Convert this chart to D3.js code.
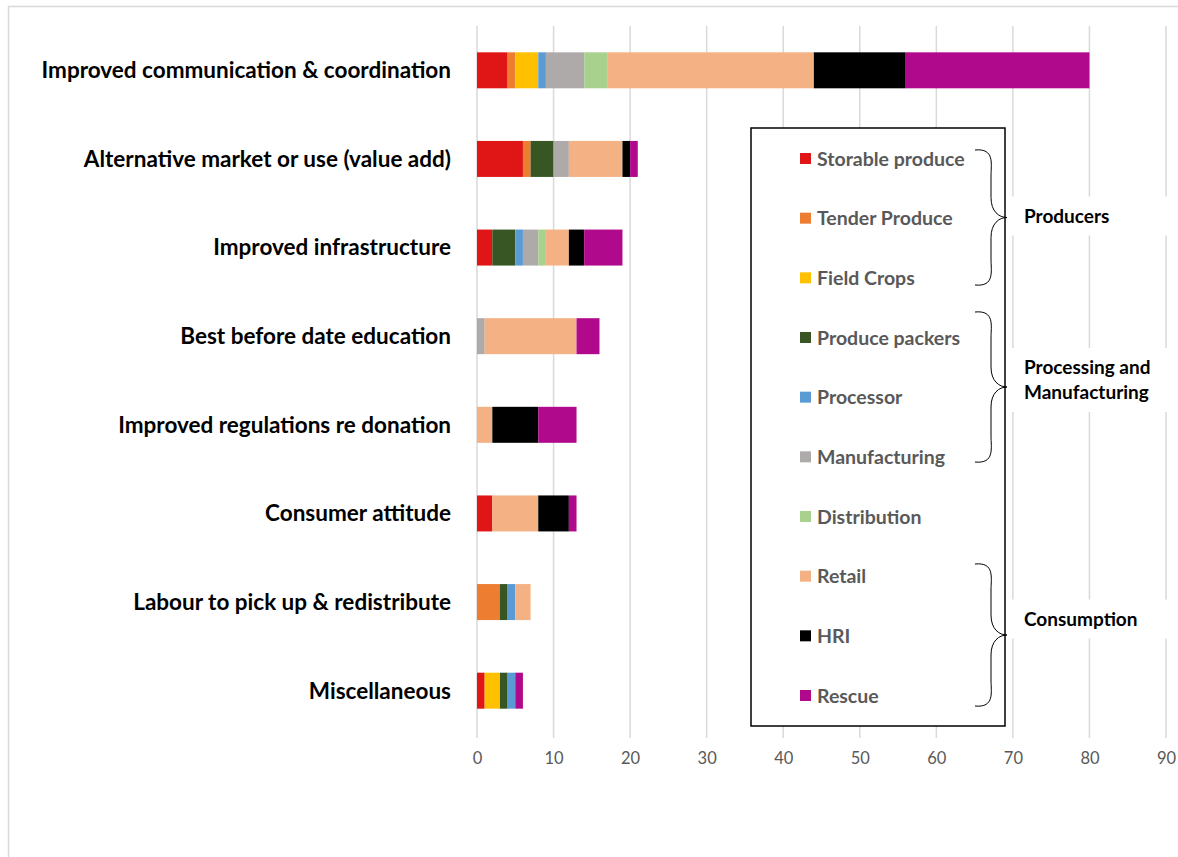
<!DOCTYPE html>
<html>
<head>
<meta charset="utf-8">
<script src="https://cdn.jsdelivr.net/npm/d3@7"></script>
<style>
  html, body { margin: 0; padding: 0; background: #fff; }
  svg { display: block; }
</style>
</head>
<body>
<svg id="chart" width="1178" height="857"></svg>
<script>
// Solutions to reduce food waste, counted by supply-chain sector
const categories = [
  "Improved communication & coordination",
  "Alternative market or use (value add)",
  "Improved infrastructure",
  "Best before date education",
  "Improved regulations re donation",
  "Consumer attitude",
  "Labour to pick up & redistribute",
  "Miscellaneous"
];

const sectors = [
  "Storable produce", "Tender Produce", "Field Crops", "Produce packers",
  "Processor", "Manufacturing", "Distribution", "Retail", "HRI", "Rescue"
];

const sectorColors = [
  "#e01616", "#ed7d31", "#ffc000", "#375623",
  "#5b9bd5", "#aeaaaa", "#a9d18e", "#f4b183", "#000000", "#b0098b"
];

// One array per sector, values in category order
const storableProduce = [4, 6, 2, 0, 0, 2, 0, 1];
const tenderProduce   = [1, 1, 0, 0, 0, 0, 3, 0];
const fieldCrops      = [3, 0, 0, 0, 0, 0, 0, 2];
const producePackers  = [0, 3, 3, 0, 0, 0, 1, 1];
const processor       = [1, 0, 1, 0, 0, 0, 1, 1];
const manufacturing   = [5, 2, 2, 1, 0, 0, 0, 0];
const distribution    = [3, 0, 1, 0, 0, 0, 0, 0];
const retail          = [27, 7, 3, 12, 2, 6, 2, 0];
const hri             = [12, 1, 2, 0, 6, 4, 0, 0];
const rescue          = [24, 1, 5, 3, 5, 1, 0, 1];

const xTicks = [0, 10, 20, 30, 40, 50, 60, 70, 80, 90];

const groupLabels = [["Producers"], ["Processing and", "Manufacturing"], ["Consumption"]];
const groupFirst = [0, 3, 7];
const groupLast = [2, 5, 9];

const seriesValues = [storableProduce, tenderProduce, fieldCrops, producePackers,
  processor, manufacturing, distribution, retail, hri, rescue];

const rows = categories.map((c, i) => {
  const r = { category: c };
  sectors.forEach((s, k) => { r[s] = seriesValues[k][i]; });
  return r;
});

const svg = d3.select("#chart");
const FONT = "Lato, 'Open Sans', sans-serif";

// Outer frame
svg.append("line").attr("x1", 8).attr("x2", 1178).attr("y1", 6.5).attr("y2", 6.5)
  .attr("stroke", "#d9d9d9").attr("stroke-width", 1.5);
svg.append("line").attr("x1", 8.5).attr("x2", 8.5).attr("y1", 6).attr("y2", 857)
  .attr("stroke", "#d9d9d9").attr("stroke-width", 1.5);

const x = d3.scaleLinear().domain([0, 90]).range([477, 1166]);
const y = d3.scaleBand().domain(categories).range([26, 735]).paddingInner(0.594).paddingOuter(0.297);

// Vertical gridlines
svg.append("g").selectAll("line").data(xTicks).join("line")
  .attr("x1", d => x(d)).attr("x2", d => x(d))
  .attr("y1", 26).attr("y2", 738)
  .attr("stroke", "#d9d9d9").attr("stroke-width", 1.5);

// Stacked bars
const stack = d3.stack().keys(sectors)(rows);
const color = d3.scaleOrdinal().domain(sectors).range(sectorColors);

svg.append("g").selectAll("g").data(stack).join("g")
  .attr("fill", d => color(d.key))
  .selectAll("rect").data(d => d).join("rect")
  .attr("x", d => x(d[0]))
  .attr("width", d => x(d[1]) - x(d[0]))
  .attr("y", d => y(d.data.category))
  .attr("height", y.bandwidth());

// Category labels
svg.append("g").selectAll("text").data(categories).join("text")
  .attr("x", 451)
  .attr("y", d => y(d) + y.bandwidth() / 2)
  .attr("dy", "0.35em")
  .attr("text-anchor", "end")
  .attr("font-family", FONT).attr("font-weight", "bold").attr("font-size", 22.5)
  .attr("fill", "#000")
  .text(d => d);

// X axis tick labels
const xAxis = d3.axisBottom(x).tickValues(xTicks).tickSize(0).tickPadding(0);
const gx = svg.append("g").attr("transform", "translate(0,752)").call(xAxis);
gx.select(".domain").remove();
gx.selectAll("text")
  .attr("font-family", FONT).attr("font-size", 16.5).attr("fill", "#595959");

// Legend box
svg.append("rect").attr("x", 751).attr("y", 128).attr("width", 254).attr("height", 598)
  .attr("fill", "#fff").attr("stroke", "#000").attr("stroke-width", 1.5);

const ly = d3.scalePoint().domain(sectors).range([159, 696]);
const legend = svg.append("g").selectAll("g").data(sectors).join("g")
  .attr("transform", d => `translate(800,${ly(d)})`);
legend.append("rect").attr("x", 0).attr("y", -6).attr("width", 11).attr("height", 11)
  .attr("fill", d => color(d));
legend.append("text").attr("x", 17).attr("dy", "0.35em")
  .attr("font-family", FONT).attr("font-weight", "bold").attr("font-size", 19.5)
  .attr("fill", "#595959")
  .text(d => d);

// Curly braces grouping the legend entries
function bracePath(x0, x1, top, bottom) {
  const mid = (top + bottom) / 2;
  const xm = (x0 + x1) / 2;
  return `M${x0},${top} C${xm + 4},${top - 2} ${xm},${top + 14} ${xm},${top + 26}` +
    ` L${xm},${mid - 20} C${xm},${mid - 6} ${xm + 8},${mid} ${x1},${mid}` +
    ` C${xm + 8},${mid} ${xm},${mid + 6} ${xm},${mid + 20}` +
    ` L${xm},${bottom - 26} C${xm},${bottom - 14} ${xm + 4},${bottom + 2} ${x0},${bottom}`;
}

// Brace extents run a little beyond the first and last legend rows of each group
const braceTop = [150, 312, 564];
const braceBottom = [285, 462, 706];
// Group label block centres beside each brace
const labelMid = [216, 380, 619];

groupLabels.forEach((lines, gi) => {
  const top = braceTop[gi], bottom = braceBottom[gi];
  svg.append("path")
    .attr("d", bracePath(975, 1007, top, bottom))
    .attr("fill", "none").attr("stroke", "#000").attr("stroke-width", 1);
  const mid = labelMid[gi];
  const h = lines.length * 25 + 10;
  svg.append("rect").attr("x", 1010).attr("y", mid - h / 2 - 2).attr("width", 168).attr("height", h + 4)
    .attr("fill", "#fff");
  const t = svg.append("text")
    .attr("x", 1024).attr("y", mid - (lines.length - 1) * 12.5)
    .attr("font-family", FONT).attr("font-weight", "bold").attr("font-size", 19)
    .attr("fill", "#000");
  lines.forEach((line, i) => {
    t.append("tspan").attr("x", 1024).attr("dy", i === 0 ? "0.35em" : 25).text(line);
  });
});
</script>
</body>
</html>
